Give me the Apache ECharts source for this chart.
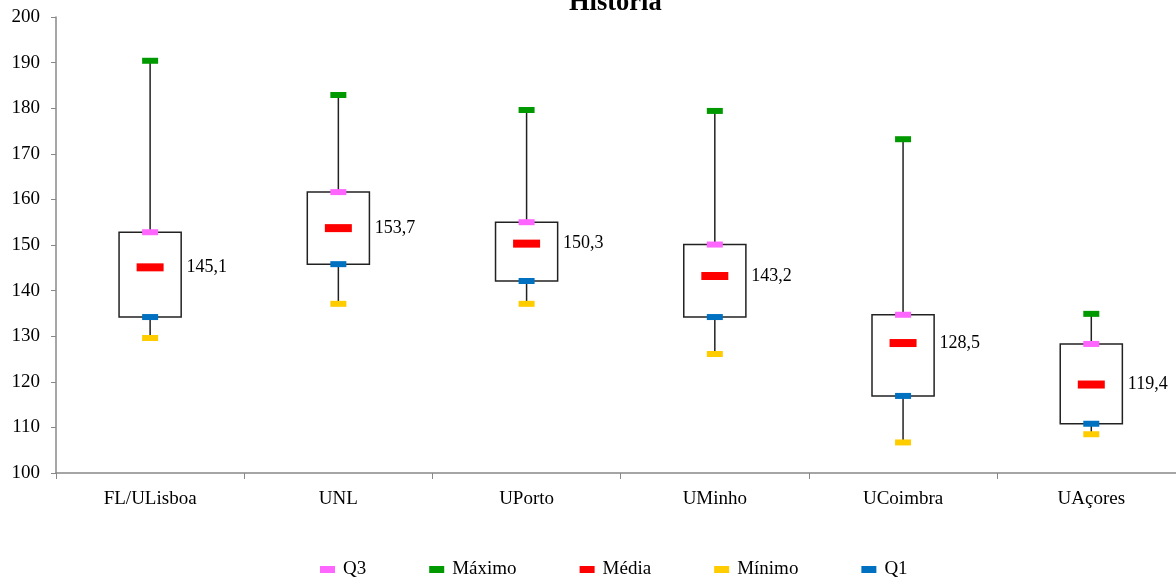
<!DOCTYPE html>
<html><head><meta charset="utf-8">
<script src="https://cdn.jsdelivr.net/npm/echarts@6/dist/echarts.min.js"></script>
<style>html,body{margin:0;padding:0;background:#fff}#c{width:1176px;height:579px}</style>
</head><body><div id="c"></div>
<script>
const categories = ['FL/ULisboa', 'UNL', 'UPorto', 'UMinho', 'UCoimbra', 'UAçores'];
const maxVals  = [190.4, 182.9, 179.6, 179.4, 173.2, 134.9];
const q3Vals   = [152.8, 161.6, 155.0, 150.1, 134.7, 128.3];
const meanVals = [145.1, 153.7, 150.3, 143.2, 128.5, 119.4];
const q1Vals   = [134.2, 145.8, 142.1, 134.2, 116.9, 110.8];
const minVals  = [129.6, 137.1, 137.1, 126.1, 106.7, 108.5];
const yTicks = [100, 110, 120, 130, 140, 150, 160, 170, 180, 190, 200];

const font = '"Liberation Serif", "Times New Roman", serif';
const boxData = categories.map((c, i) => [i, minVals[i], q1Vals[i], q3Vals[i], maxVals[i]]);
const catIdx = categories.map((c, i) => i);
const catEdges = categories.map((c, i) => i - 0.5);

function markerSeries(name, vals, color, size, extra) {
  return Object.assign({
    name, type: 'scatter', data: vals.map((v, i) => [i, v]),
    symbol: 'rect', symbolSize: size,
    itemStyle: { color: color, opacity: 1 }, z: 5,
    emphasis: { disabled: true }
  }, extra || {});
}

const chart = echarts.init(document.getElementById('c'), null, { renderer: 'canvas' });
chart.setOption({
  animation: false,
  backgroundColor: '#fff',
  title: {
    text: 'História', left: 564, top: -15,
    textStyle: { fontFamily: font, fontSize: 26.5, fontWeight: 'bold', color: '#000' }
  },
  legend: {
    bottom: -5, left: 315, itemGap: 63, itemWidth: 15, itemHeight: 7,
    icon: 'rect',
    data: ['Q3', 'Máximo', 'Média', 'Mínimo', 'Q1'],
    textStyle: { fontFamily: font, fontSize: 19, color: '#000', padding: [0, 0, 0, 3] }
  },
  grid: { left: 56, top: 17, right: 0, height: 456, containLabel: false },
  xAxis: {
    type: 'value', min: -0.5, max: 5.45,
    axisLine: { show: true, onZero: false, lineStyle: { color: '#888', width: 1.5 } },
    axisTick: { show: true, length: 6, customValues: catEdges, lineStyle: { color: '#888' } },
    axisLabel: { fontFamily: font, fontSize: 19, color: '#000', margin: 17, customValues: catIdx,
      formatter: v => categories[Math.round(v)] },
    splitLine: { show: false }
  },
  yAxis: {
    type: 'value', min: 100, max: 200, interval: 10,
    axisLine: { show: true, onZero: false, lineStyle: { color: '#888', width: 1.5 } },
    axisTick: { show: true, length: 5, lineStyle: { color: '#888' } },
    axisLabel: { fontFamily: font, fontSize: 19, color: '#000', margin: 16,
      formatter: v => yTicks.includes(v) ? String(v) : '' },
    splitLine: { show: false }
  },
  series: [
    {
      name: 'box', type: 'custom', data: boxData, z: 2,
      renderItem: function (params, api) {
        const i = api.value(0);
        const pMin = api.coord([i, api.value(1)]);
        const pQ1 = api.coord([i, api.value(2)]);
        const pQ3 = api.coord([i, api.value(3)]);
        const pMax = api.coord([i, api.value(4)]);
        const w = api.size([1, 0])[0] * 0.33;
        const x = pQ1[0];
        return {
          type: 'group', children: [
            { type: 'line', shape: { x1: x, y1: pMax[1], x2: x, y2: pMin[1] },
              style: { stroke: '#222', lineWidth: 1.5 } },
            { type: 'rect', shape: { x: x - w / 2, y: pQ3[1], width: w, height: pQ1[1] - pQ3[1] },
              style: { fill: '#fff', stroke: '#222', lineWidth: 1.5 } }
          ]
        };
      }
    },
    markerSeries('Q3', q3Vals, '#ff66ff', [16, 6]),
    markerSeries('Máximo', maxVals, '#009900', [16, 6]),
    markerSeries('Média', meanVals, '#ff0000', [27, 8], {
      label: { show: true, position: 'right', distance: 23, fontFamily: font, fontSize: 18, color: '#000',
        formatter: p => p.value[1].toFixed(1).replace('.', ',') }
    }),
    markerSeries('Mínimo', minVals, '#ffcc00', [16, 6]),
    markerSeries('Q1', q1Vals, '#0070c0', [16, 6])
  ]
});
</script></body></html>
